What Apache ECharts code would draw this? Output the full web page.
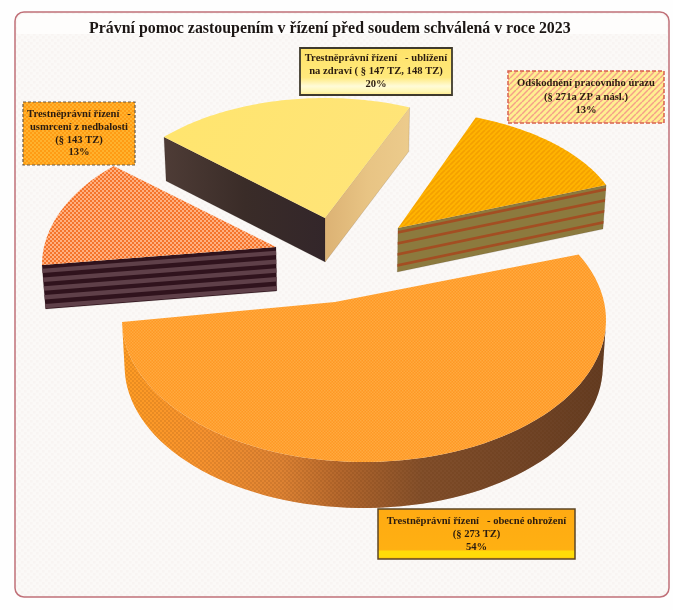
<!DOCTYPE html>
<html><head><meta charset="utf-8">
<style>html,body{margin:0;padding:0;background:#fefefe}#main{width:673px;height:610px;filter:blur(.6px)}</style>
<script src="https://cdn.jsdelivr.net/npm/echarts@6/dist/echarts.min.js"></script>
</head><body><div id="main"></div>
<script>
// ---------- data ----------
const titleText = 'Právní pomoc zastoupením v řízení před soudem schválená v roce 2023';
const categories = [
  'Trestněprávní řízení   -\nusmrcení z nedbalosti\n(§ 143 TZ)',
  'Trestněprávní řízení   - ublížení\nna zdraví ( § 147 TZ, 148 TZ)',
  'Odškodnění pracovního úrazu\n(§ 271a ZP a násl.)',
  'Trestněprávní řízení   - obecné ohrožení\n(§ 273 TZ)'
];
const shares = [13, 20, 13, 54];

// ---------- layout of the exploded perspective pie (one entry per slice) ----------
// apex: slice tip; ell: projected ellipse [cx, cy, rx, ry]; start: ellipse angle of the first edge;
// stretch: perspective widening of the value's sweep; depth: thickness
const sliceLayout = [
  {apex:[276,247], ell:[278,265,236,138], start:180,  stretch:0.98,  depth:44},
  {apex:[325,218], ell:[325,223,222,125], start:136.5,stretch:0.957, depth:44},
  {apex:[398,228], ell:[398,229,224,119], start:69.7, stretch:1.026, depth:44},
  {apex:[335,302], ell:[364,320,242,142], start:27.5, stretch:1.063, depth:46}
];
const labelBoxes = [
  {x:23, y:102,w:112,h:63, lh:12.8},
  {x:300,y:48, w:152,h:47, lh:13},
  {x:508,y:71, w:156,h:52, lh:13.5},
  {x:378,y:509,w:197,h:50, lh:13}
];

// ---------- fills ----------
function tile(w,h,bg,draw){
  const c=document.createElement('canvas');c.width=w;c.height=h;
  const g=c.getContext('2d');g.fillStyle=bg;g.fillRect(0,0,w,h);draw(g);
  return {image:c,repeat:'repeat'};
}
function dots(period,bg,fg,size){
  return tile(period,period,bg,g=>{g.fillStyle=fg;
    const s=size,h=period/2;
    g.fillRect(0,0,s,s);g.fillRect(h,h,s,s);});
}
function diag(period,bg,fg,lw){
  return tile(period,period,bg,g=>{g.strokeStyle=fg;g.lineWidth=lw;
    for(let k=-1;k<=1;k++){g.beginPath();g.moveTo(k*period,period);g.lineTo(k*period+period,0);g.stroke();}});
}
function hgrad(x,x2,stops){
  return {type:'linear',x:x,y:0,x2:x2,y2:0,global:true,
    colorStops:stops.map(s=>({offset:s[0],color:s[1]}))};
}
function vgrad(stops){
  return {type:'linear',x:0,y:0,x2:0,y2:1,colorStops:stops.map(s=>({offset:s[0],color:s[1]}))};
}
const sliceStyle = [
  {top:dots(4,'#f4742c','#ffb080',2),
   a:{base:'#30131d',band:'#5f4049',n:5,off:.42,w:.5}},
  {top:{type:'linear',x:0,y:0,x2:1,y2:1,colorStops:[{offset:0,color:'#ffe56e'},{offset:1,color:'#ffe47a'}]},
   a:{base:hgrad(164,325,[[0,'#4e3c36'],[.5,'#3a2c28'],[1,'#33262a']])},
   b:{base:hgrad(325,410,[[0,'#dcb274'],[.5,'#e8c484'],[1,'#eccb8c']])}},
  {top:diag(5,'#ffb400','#f4a000',1.6),
   b:{base:'#8c7a3e',band:'#a34e22',n:4,off:.28,w:.25}},
  {top:dots(3,'#ff9824','#ffaa40',1.5),
   arc:{base:hgrad(122,606,[[0,'#ff9a1e'],[.16,'#f58e2a'],[.33,'#d87c30'],[.45,'#a85c28'],[.62,'#6e4026'],[.82,'#5c3522'],[1,'#4a2a1c']]),
        over:dots(4,'rgba(255,170,70,0.14)','rgba(90,40,10,0.12)',2)}}
];
const boxStyle = [
  {fill:dots(4,'#ff9c14','#ffb22e',2),stroke:'#6c5a45',lw:1.2,dash:[3,2]},
  {fill:vgrad([[0,'#ffe268'],[.62,'#ffe97c'],[.8,'#fffbd8'],[.92,'#fff6b0'],[1,'#ffe478']]),stroke:'#3f3a2c',lw:1.8},
  {fill:diag(6,'#ffee90','#f5a088',1.5),stroke:'#d8604e',lw:1.5,dash:[4,2]},
  {fill:vgrad([[0,'#ffaa12'],[.8,'#ffb012'],[.84,'#ffdc08'],[.94,'#ffdc08'],[1,'#ffae10']]),stroke:'#5c4526',lw:1.5}
];

// ---------- geometry driven by the shares ----------
function slicePoints(i,value){
  const L=sliceLayout[i],[ex,ey,rx,ry]=L.ell,pts=[],N=80;
  const sweep=value*3.6*L.stretch;
  for(let k=0;k<=N;k++){
    const t=(L.start-sweep*k/N)*Math.PI/180;
    pts.push([ex+rx*Math.cos(t),ey-ry*Math.sin(t)]);
  }
  return pts;
}
function drop(p,d){return [p[0]+(340-p[0])*0.012,p[1]+d];}
function faceShapes(p1,p2,d,st,out){
  const q1=drop(p1,d),q2=drop(p2,d);
  out.push({type:'polygon',shape:{points:[p1,p2,q2,q1]},style:{fill:st.base,stroke:'rgba(30,15,10,.25)',lineWidth:.5},silent:true});
  if(st.band){
    const mix=(a,b,f)=>[a[0]+(b[0]-a[0])*f,a[1]+(b[1]-a[1])*f];
    for(let k=0;k<st.n;k++){
      const f0=(k+st.off)/st.n,f1=(k+st.off+st.w)/st.n;
      out.push({type:'polygon',shape:{points:[mix(p1,q1,f0),mix(p2,q2,f0),mix(p2,q2,f1),mix(p1,q1,f1)]},style:{fill:st.band},silent:true});
    }
  }
}
function renderSlice(params,api){
  const i=params.dataIndex,v=api.value(0),L=sliceLayout[i],S=sliceStyle[i];
  const arc=slicePoints(i,v),ch=[];
  // a radial or rim face is visible only when its top edge runs leftwards on screen
  if(S.a&&L.apex[0]>arc[0][0]) faceShapes(L.apex,arc[0],L.depth,S.a,ch);
  const end=arc[arc.length-1];
  if(S.b&&end[0]>L.apex[0]) faceShapes(end,L.apex,L.depth,S.b,ch);
  if(S.arc){
    const vis=arc.filter((p,k)=>k>0&&p[0]<arc[k-1][0]);
    const rim=vis.concat(vis.slice().reverse().map(p=>drop(p,L.depth)));
    ch.push({type:'polygon',shape:{points:rim},style:{fill:S.arc.base},silent:true});
    ch.push({type:'polygon',shape:{points:rim},style:{fill:S.arc.over},silent:true});
  }
  ch.push({type:'polygon',shape:{points:[L.apex].concat(arc)},style:{fill:S.top},silent:true});
  return {type:'group',children:ch};
}
function renderLabel(params,api){
  const i=params.dataIndex,b=labelBoxes[i],s=boxStyle[i];
  return {type:'group',children:[
    {type:'rect',shape:{x:b.x,y:b.y,width:b.w,height:b.h},
     style:{fill:s.fill,stroke:s.stroke,lineWidth:s.lw,lineDash:s.dash||null},silent:true},
    {type:'text',x:b.x+b.w/2,y:b.y+b.h/2,silent:true,
     style:{text:categories[i]+'\n'+api.value(0)+'%',align:'center',verticalAlign:'middle',
       font:'bold 10.6px "Liberation Serif"',lineHeight:b.lh,fill:'#2b1c10'}}
  ]};
}

const chart=echarts.init(document.getElementById('main'),null,{renderer:'canvas'});
chart.setOption({
  animation:false,
  backgroundColor:'#fefefe',
  title:{text:titleText,left:89,top:21,padding:0,
    textStyle:{fontFamily:'Liberation Serif',fontWeight:'bold',fontSize:15.9,color:'#1c1614'}},
  graphic:[
    {type:'rect',z:-5,shape:{x:15,y:12,width:654,height:585,r:9},
     style:{fill:dots(6,'#fbf9f7','#f8f4f2',2.5),stroke:'#c07078',lineWidth:1.5},silent:true},
    {type:'rect',z:-4,shape:{x:17,y:14,width:650,height:20,r:[8,8,0,0]},
     style:{fill:'#fefdfc'},silent:true}
  ],
  series:[
    {type:'custom',coordinateSystem:'none',name:'slices',z:2,renderItem:renderSlice,data:shares.map(v=>[v]),silent:true},
    {type:'custom',coordinateSystem:'none',name:'labels',z:3,renderItem:renderLabel,data:shares.map(v=>[v]),silent:true}
  ]
});
</script></body></html>
